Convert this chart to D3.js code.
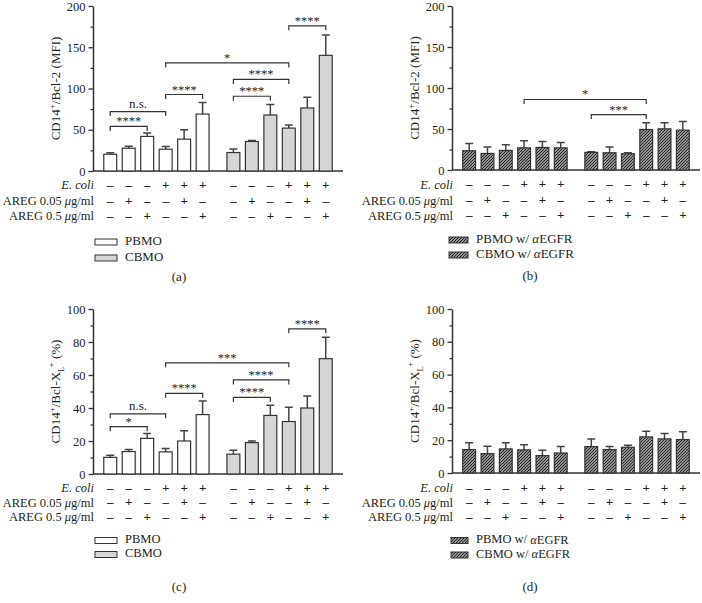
<!DOCTYPE html>
<html><head><meta charset="utf-8">
<script src="https://cdn.jsdelivr.net/npm/d3@7"></script>
<style>
html,body{margin:0;padding:0;background:#fff;}
svg{display:block;}
text{font-family:"Liberation Serif","Times New Roman",serif;fill:#231f20;}
</style></head>
<body><svg id="chart" width="702" height="603"></svg>
<script>
// ---------- data ----------
const groups = ["PBMO", "CBMO"];
const conditions = ["ctrl", "AREG0.05", "AREG0.5", "Ecoli", "Ecoli+AREG0.05", "Ecoli+AREG0.5"];
const rowLabels = ["E. coli", "AREG 0.05 μg/ml", "AREG 0.5 μg/ml"];
const ecoliSigns = ["–", "–", "–", "+", "+", "+"];
const areg005Signs = ["–", "+", "–", "–", "+", "–"];
const areg05Signs = ["–", "–", "+", "–", "–", "+"];

const bcl2TickValues = [0, 50, 100, 150, 200];
const bclxlTickValues = [0, 20, 40, 60, 80, 100];

// (a) CD14+/Bcl-2 (MFI)
const bcl2_PBMO = [20.3, 27.6, 41.9, 26.4, 38.6, 69.0];
const bcl2_PBMO_err = [1.7, 2.4, 4.1, 3.3, 11.4, 14.0];
const bcl2_CBMO = [22.4, 35.8, 67.9, 52.0, 76.4, 140.2];
const bcl2_CBMO_err = [4.4, 1.2, 12.6, 3.7, 13.0, 24.8];
// (b) with anti-EGFR
const bcl2_PBMO_EGFR = [23.5, 20.2, 23.9, 27.0, 27.5, 27.0];
const bcl2_PBMO_EGFR_err = [8.9, 7.8, 6.9, 8.6, 7.3, 6.6];
const bcl2_CBMO_EGFR = [21.5, 21.0, 19.8, 49.4, 50.2, 48.6];
const bcl2_CBMO_EGFR_err = [0.8, 7.0, 1.2, 8.1, 7.3, 10.4];
// (c) CD14+/Bcl-XL+ (%)
const bclxl_PBMO = [10.1, 13.6, 21.6, 13.4, 20.0, 36.0];
const bclxl_PBMO_err = [1.2, 1.2, 2.9, 2.1, 6.2, 8.3];
const bclxl_CBMO = [12.0, 19.0, 35.5, 31.8, 40.0, 69.9];
const bclxl_CBMO_err = [2.4, 1.0, 6.1, 8.6, 7.2, 13.0];
// (d) with anti-EGFR
const bclxl_PBMO_EGFR = [14.3, 11.8, 14.7, 14.1, 10.6, 12.2];
const bclxl_PBMO_EGFR_err = [4.1, 4.5, 3.7, 3.2, 3.3, 3.9];
const bclxl_CBMO_EGFR = [16.1, 14.3, 15.7, 22.0, 20.8, 20.4];
const bclxl_CBMO_EGFR_err = [4.7, 1.8, 1.2, 3.5, 3.3, 4.7];

// significance brackets: [fromBar, toBar, level, label]
const sigA = [[0, 2, 54, "****"], [0, 3, 72, "n.s."], [3, 5, 92.7, "****"], [3, 9, 131, "*"],
              [6, 8, 90.6, "****"], [6, 9, 111, "****"], [9, 11, 176, "****"]];
const sigB = [[3, 9, 86, "*"], [6, 9, 67.6, "***"]];
const sigC = [[0, 2, 28.7, "*"], [0, 3, 36.5, "n.s."], [3, 5, 48.9, "****"], [3, 9, 67.4, "***"],
              [6, 8, 46.4, "****"], [6, 9, 57, "****"], [9, 11, 88, "****"]];
const sigD = [];

const legendPlain = ["PBMO", "CBMO"];
const legendEGFR = ["PBMO w/ ", "CBMO w/ "];

// ---------- drawing ----------
const svg = d3.select("#chart");
const defs = svg.append("defs");
function hatch(id, bg, sw) {
  const p = defs.append("pattern").attr("id", id).attr("patternUnits", "userSpaceOnUse")
    .attr("width", 3).attr("height", 3);
  p.append("rect").attr("width", 3).attr("height", 3).attr("fill", bg);
  p.append("path").attr("d", "M-1,1 L1,-1 M0,3 L3,0 M2,4 L4,2")
    .attr("stroke", "#222").attr("stroke-width", sw);
}
hatch("hatchPB", "#e8e8e8", 1.25);
hatch("hatchCB", "#bdbdbd", 1.1);

const rowSigns = [ecoliSigns, areg005Signs, areg05Signs];

function drawPanel(cfg) {
  const g = svg.append("g");
  const y = d3.scaleLinear().domain([0, cfg.ticks[cfg.ticks.length - 1]]).range([cfg.bottom, cfg.top]);
  const outer = d3.scaleBand().domain(groups).range([cfg.left + 8, cfg.right - 8]).paddingInner(0.1);
  const inner = d3.scaleBand().domain(conditions).range([0, outer.bandwidth()]).paddingInner(0.3).paddingOuter(0.15);
  const cx = k => outer(groups[Math.floor(k / 6)]) + inner(conditions[k % 6]) + inner.bandwidth() / 2;

  // minor ticks
  const step = cfg.ticks[1] - cfg.ticks[0];
  const minor = cfg.ticks.slice(0, -1).map(t => t + step / 2);
  g.append("g").attr("transform", `translate(${cfg.left},0)`)
    .call(d3.axisLeft(y).tickValues(minor).tickSize(2.5).tickFormat(""))
    .call(a => a.select(".domain").remove())
    .call(a => a.selectAll("line").attr("stroke", "#333").attr("stroke-width", 1.2));
  // major axis
  g.append("g").attr("transform", `translate(${cfg.left},0)`)
    .call(d3.axisLeft(y).tickValues(cfg.ticks).tickSize(4.5).tickSizeOuter(0).tickPadding(3).tickFormat(d3.format("d")))
    .call(a => a.select(".domain").attr("stroke", "#333").attr("stroke-width", 1.5))
    .call(a => a.selectAll("line").attr("stroke", "#333").attr("stroke-width", 1.3))
    .call(a => a.selectAll("text").attr("font-size", 12.5).attr("font-family", "Liberation Serif").attr("fill", "#231f20"));
  // x axis baseline
  g.append("line").attr("x1", cfg.left).attr("x2", cfg.right).attr("y1", y(0)).attr("y2", y(0))
    .attr("stroke", "#333").attr("stroke-width", 1.5);

  // bars
  const bars = [];
  groups.forEach((grp, gi) => conditions.forEach((c, i) => bars.push({
    grp, c, k: gi * 6 + i, v: cfg.vals[gi][i], e: cfg.errs[gi][i], fill: cfg.fills[gi]
  })));
  // error bars (upward only)
  const capW = 8;
  g.selectAll(".err").data(bars).join("path").attr("class", "err")
    .attr("d", d => `M${cx(d.k)},${y(d.v)}V${y(d.v + d.e)}M${cx(d.k) - capW / 2},${y(d.v + d.e)}H${cx(d.k) + capW / 2}`)
    .attr("stroke", "#444").attr("stroke-width", 1.5).attr("fill", "none");
  g.selectAll(".bar").data(bars).join("rect").attr("class", "bar")
    .attr("x", d => outer(d.grp) + inner(d.c))
    .attr("width", inner.bandwidth())
    .attr("y", d => y(d.v)).attr("height", d => y(0) - y(d.v))
    .attr("fill", d => d.fill).attr("stroke", "#333").attr("stroke-width", 1.2);

  // significance brackets
  cfg.sig.forEach(([a, b, lvl, lab]) => {
    const yy = y(lvl);
    g.append("path").attr("d", `M${cx(a)},${yy + 4.5}V${yy}H${cx(b)}V${yy + 4.5}`)
      .attr("stroke", "#333").attr("stroke-width", 1.2).attr("fill", "none");
    g.append("text").attr("x", (cx(a) + cx(b)) / 2).attr("y", lab === "n.s." ? yy - 3.5 : yy - 1)
      .attr("text-anchor", "middle").attr("font-size", lab === "n.s." ? 13 : 12.5).text(lab);
  });

  // y label
  const yl = g.append("text").attr("transform", `translate(${cfg.left - 33},${(cfg.top + cfg.bottom) / 2}) rotate(-90)`)
    .attr("text-anchor", "middle").attr("font-size", 13);
  yl.append("tspan").text("CD14");
  yl.append("tspan").attr("dy", -5).attr("font-size", 9).text("+");
  if (cfg.ylab === "bcl2") {
    yl.append("tspan").attr("dy", 5).text("/Bcl-2 (MFI)");
  } else {
    yl.append("tspan").attr("dy", 5).text("/Bcl-X");
    yl.append("tspan").attr("dy", 4).attr("font-size", 9).text("L");
    yl.append("tspan").attr("dy", -10).attr("dx", -1).attr("font-size", 9).text("+");
    yl.append("tspan").attr("dy", 6).text(" (%)");
  }

  // condition rows
  rowLabels.forEach((lab, r) => {
    const ry = cfg.rowY[r];
    const t = g.append("text").attr("x", cfg.left + 1).attr("y", ry).attr("text-anchor", "end")
      .attr("font-size", 12.5).attr("dominant-baseline", "middle");
    if (r === 0) t.append("tspan").attr("font-style", "italic").text(lab);
    else {
      const parts = lab.split("μ");
      t.append("tspan").text(parts[0]);
      t.append("tspan").attr("font-style", "italic").text("μ");
      t.append("tspan").text(parts[1]);
    }
    bars.forEach(d => {
      g.append("text").attr("x", cx(d.k)).attr("y", ry).attr("text-anchor", "middle")
        .attr("dominant-baseline", "middle").attr("font-size", 13).attr("font-weight", "bold")
        .text(rowSigns[r][d.k % 6]);
    });
  });

  // legend
  cfg.legend.forEach((lab, i) => {
    const ly = cfg.legY[i];
    g.append("rect").attr("x", cfg.legX).attr("y", ly - 3).attr("width", cfg.legW).attr("height", 6)
      .attr("fill", cfg.fills[i]).attr("stroke", "#333").attr("stroke-width", 1);
    const t = g.append("text").attr("x", cfg.legX + cfg.legW + 8).attr("y", ly)
      .attr("dominant-baseline", "middle").attr("font-size", cfg.legFont).text(lab);
    if (cfg.egfr) {
      t.append("tspan").attr("font-style", "italic").text("α");
      t.append("tspan").text("EGFR");
    }
  });
  g.append("text").attr("x", cfg.capX).attr("y", cfg.capY).attr("text-anchor", "middle")
    .attr("dominant-baseline", "middle").attr("font-size", 13).text(cfg.caption);
}

drawPanel({left: 93, right: 343, top: 6, bottom: 171, ticks: bcl2TickValues,
  vals: [bcl2_PBMO, bcl2_CBMO], errs: [bcl2_PBMO_err, bcl2_CBMO_err], fills: ["#ffffff", "#d6d6d6"],
  sig: sigA, ylab: "bcl2", rowY: [186, 202, 217], legend: legendPlain, egfr: false, legFont: 13,
  legX: 95, legW: 22, legY: [242, 258], capX: 179, capY: 278, caption: "(a)"});
drawPanel({left: 452, right: 700, top: 6, bottom: 170, ticks: bcl2TickValues,
  vals: [bcl2_PBMO_EGFR, bcl2_CBMO_EGFR], errs: [bcl2_PBMO_EGFR_err, bcl2_CBMO_EGFR_err],
  fills: ["url(#hatchPB)", "url(#hatchCB)"],
  sig: sigB, ylab: "bcl2", rowY: [185.5, 201.5, 216.5], legend: legendEGFR, egfr: true, legFont: 13,
  legX: 449, legW: 19, legY: [240, 255], capX: 530, capY: 277, caption: "(b)"});
drawPanel({left: 93, right: 343, top: 309, bottom: 474, ticks: bclxlTickValues,
  vals: [bclxl_PBMO, bclxl_CBMO], errs: [bclxl_PBMO_err, bclxl_CBMO_err], fills: ["#ffffff", "#d6d6d6"],
  sig: sigC, ylab: "bclxl", rowY: [489, 503.5, 518], legend: legendPlain, egfr: false, legFont: 12.5,
  legX: 95, legW: 22, legY: [540.5, 554.5], capX: 179, capY: 588, caption: "(c)"});
drawPanel({left: 452, right: 700, top: 309, bottom: 473, ticks: bclxlTickValues,
  vals: [bclxl_PBMO_EGFR, bclxl_CBMO_EGFR], errs: [bclxl_PBMO_EGFR_err, bclxl_CBMO_EGFR_err],
  fills: ["url(#hatchPB)", "url(#hatchCB)"],
  sig: sigD, ylab: "bclxl", rowY: [489, 503.5, 518], legend: legendEGFR, egfr: true, legFont: 12.5,
  legX: 451, legW: 17, legY: [540.5, 555], capX: 530, capY: 588, caption: "(d)"});
</script>
</body></html>
